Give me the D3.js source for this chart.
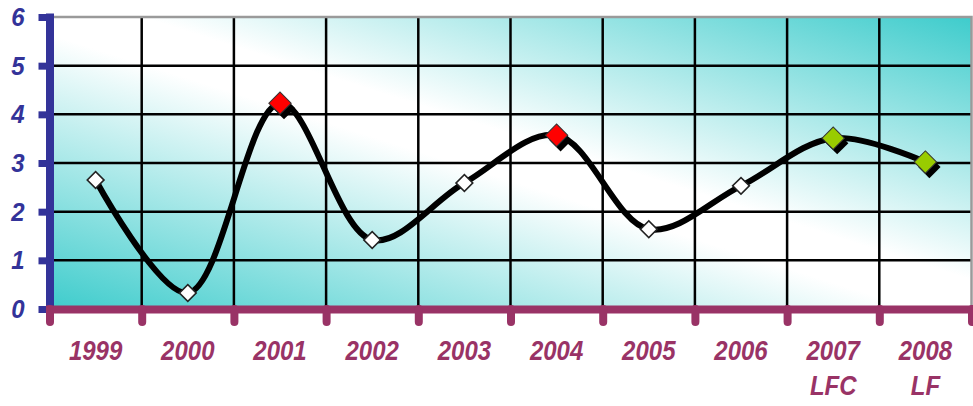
<!DOCTYPE html>
<html>
<head>
<meta charset="utf-8">
<script src="https://cdn.jsdelivr.net/npm/d3@7"></script>
<style>
  html, body { margin: 0; padding: 0; background: #ffffff; }
  svg { display: block; }
</style>
</head>
<body>
<div id="graph"></div>
<script>
// chart values
var categories = ["1999", "2000", "2001", "2002", "2003", "2004", "2005", "2006", "2007", "2008"];
var sublabels  = ["", "", "", "", "", "", "", "", "LFC", "LF"];
var values     = [2.65, 0.33, 4.23, 1.42, 2.59, 3.57, 1.64, 2.53, 3.51, 3.02];
var markerKind = ["plain", "plain", "high", "plain", "plain", "high", "plain", "plain", "target", "target"];
var yTicks     = [0, 1, 2, 3, 4, 5, 6];

var WIDTH = 973, HEIGHT = 406;
var LEFT = 49.5, RIGHT = 971.5, TOP = 17, BOTTOM = 309;

var BLUE = "#333399";
var MAROON = "#993366";
var TEAL = "#3ecccc";

// labels in the picture are a bit taller than plain Arial
var LABEL_STRETCH = 1.16;

var markerFill = {plain: "#ffffff", high: "#ff0000", target: "#99cc00"};

var svg = d3.select("#graph")
            .append("svg")
              .attr("width", WIDTH)
              .attr("height", HEIGHT);

// scales
var x = d3.scaleBand()
          .domain(categories)
          .range([LEFT, RIGHT])
          .padding(0);

var xEdge = d3.scaleLinear()
              .domain([0, categories.length])
              .range([LEFT, RIGHT]);

var y = d3.scaleLinear()
          .domain([0, 6])
          .range([BOTTOM, TOP]);

// background gradient (teal corners, white across the other diagonal)
var defs = svg.append("defs");
var grad = defs.append("linearGradient")
               .attr("id", "bg")
               .attr("x1", 0).attr("y1", 1)
               .attr("x2", 1).attr("y2", 0);
grad.append("stop").attr("offset", "0%").attr("stop-color", TEAL);
grad.append("stop").attr("offset", "47%").attr("stop-color", "#ffffff");
grad.append("stop").attr("offset", "55%").attr("stop-color", "#ffffff");
grad.append("stop").attr("offset", "100%").attr("stop-color", TEAL);

svg.append("rect")
   .attr("x", LEFT)
   .attr("y", TOP)
   .attr("width", RIGHT - LEFT)
   .attr("height", BOTTOM - TOP)
   .attr("fill", "url(#bg)");

// grid
var grid = svg.append("g");

grid.selectAll("line.h")
    .data(yTicks.filter(function (d) { return d > 0 && d < 6; }))
    .enter()
    .append("line")
      .attr("x1", LEFT).attr("x2", RIGHT)
      .attr("y1", function (d) { return y(d); })
      .attr("y2", function (d) { return y(d); })
      .attr("stroke", "#000")
      .attr("stroke-width", 2.5);

grid.selectAll("line.v")
    .data(d3.range(1, categories.length))
    .enter()
    .append("line")
      .attr("x1", function (d) { return xEdge(d); })
      .attr("x2", function (d) { return xEdge(d); })
      .attr("y1", TOP).attr("y2", BOTTOM)
      .attr("stroke", "#000")
      .attr("stroke-width", 2.5);

// grey top / right frame
svg.append("path")
   .attr("d", "M" + LEFT + "," + TOP + "H" + RIGHT + "V" + BOTTOM)
   .attr("fill", "none")
   .attr("stroke", "#9a9a9a")
   .attr("stroke-width", 2.5);

// smoothed line
var points = categories.map(function (c, i) {
  return {cat: c, value: values[i], kind: markerKind[i]};
});

var line = d3.line()
             .x(function (d) { return x(d.cat) + x.bandwidth() / 2; })
             .y(function (d) { return y(d.value); })
             .curve(d3.curveCatmullRom.alpha(0.5));

svg.append("path")
   .datum(points)
   .attr("d", line)
   .attr("fill", "none")
   .attr("stroke", "#000")
   .attr("stroke-width", 6)
   .attr("stroke-linejoin", "round");

// markers: diamonds, coloured ones carry a black drop shadow
var bigSym = d3.symbol().type(d3.symbolSquare).size(250);
var smallSym = d3.symbol().type(d3.symbolSquare).size(140);

var marks = svg.selectAll("g.mark")
               .data(points)
               .enter()
               .append("g")
                 .attr("transform", function (d) {
                   return "translate(" + (x(d.cat) + x.bandwidth() / 2) + "," + y(d.value) + ")";
                 });

marks.filter(function (d) { return d.kind !== "plain"; })
     .append("path")
       .attr("d", bigSym)
       .attr("transform", "translate(4,5) rotate(45)")
       .attr("fill", "#000");

marks.append("path")
     .attr("d", function (d) { return d.kind === "plain" ? smallSym() : bigSym(); })
     .attr("transform", "rotate(45)")
     .attr("fill", function (d) { return markerFill[d.kind]; })
     .attr("stroke", function (d) { return d.kind === "plain" ? "#222" : "#333"; })
     .attr("stroke-width", function (d) { return d.kind === "plain" ? 1.6 : 1; });

// y axis (blue)
var yAxis = d3.axisLeft(y)
              .tickValues(yTicks)
              .tickSize(11)
              .tickSizeOuter(0)
              .tickPadding(14)
              .tickFormat(d3.format("d"));

var yAxisEl = svg.append("g")
                 .attr("transform", "translate(" + LEFT + ",0)")
                 .call(yAxis);

yAxisEl.select(".domain")
       .attr("stroke", BLUE)
       .attr("stroke-width", 8)
       .attr("stroke-linecap", "square");

yAxisEl.selectAll(".tick line")
       .attr("stroke", BLUE)
       .attr("stroke-width", 7);

yAxisEl.selectAll(".tick text")
       .attr("fill", BLUE)
       .attr("x", -25)
       .attr("dy", "0.34em")
       .attr("transform", "scale(1,1.06)")
       .style("font-family", "'Liberation Sans', Arial, sans-serif")
       .style("font-size", "24px")
       .style("font-weight", "bold")
       .style("font-style", "italic");

// x axis (maroon): bar + ticks at category edges
var xEdgeAxis = d3.axisBottom(xEdge)
                  .ticks(categories.length)
                  .tickSize(13)
                  .tickSizeOuter(0)
                  .tickFormat("");

var xEdgeEl = svg.append("g")
                 .attr("transform", "translate(0," + BOTTOM + ")")
                 .call(xEdgeAxis);

xEdgeEl.select(".domain")
       .attr("stroke", MAROON)
       .attr("stroke-width", 8)
       .attr("stroke-linecap", "square");

xEdgeEl.selectAll(".tick line")
       .attr("stroke", MAROON)
       .attr("stroke-width", 8)
       .attr("stroke-linecap", "round");

// category labels
var xAxis = d3.axisBottom(x)
              .tickSize(0)
              .tickSizeOuter(0);

var xAxisEl = svg.append("g")
                 .attr("transform", "translate(0," + BOTTOM + ")")
                 .call(xAxis);

xAxisEl.select(".domain").remove();

xAxisEl.selectAll(".tick text")
       .attr("fill", MAROON)
       .attr("y", 0)
       .attr("dy", null)
       .attr("transform", "translate(0,51) scale(1," + LABEL_STRETCH + ")")
       .style("font-family", "'Liberation Sans', Arial, sans-serif")
       .style("font-size", "24px")
       .style("font-weight", "bold")
       .style("font-style", "italic")
       .text(null)
       .each(function (d, i) {
         var t = d3.select(this);
         t.append("tspan").attr("x", 0).text(d);
         if (sublabels[i]) {
           t.append("tspan").attr("x", 0).attr("dy", 35 / LABEL_STRETCH).text(sublabels[i]);
         }
       });
</script>
</body>
</html>
